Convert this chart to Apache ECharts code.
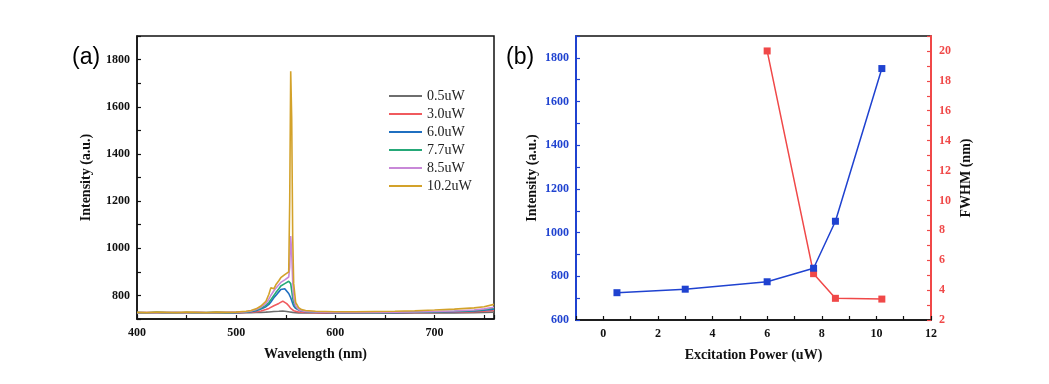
<!DOCTYPE html>
<html><head><meta charset="utf-8">
<script src="https://cdn.jsdelivr.net/npm/echarts@6/dist/echarts.min.js"></script>
<style>html,body{margin:0;padding:0;background:#fff}#c{width:1049px;height:384px}</style>
</head><body><div id="c"></div>
<script>
// ---- Panel (a): spectra ----
const wavelength = [400,410,420,430,440,450,460,470,480,490,500,510,515,520,525,530,533,535,538,540,543,545,547,549,551,553,554,555,556,557,558,560,563,566,570,580,590,600,620,640,660,680,700,720,740,750,760];
const s05  = [726,725,727,726,725,727,726,725,727,726,726,727,727,728,728,729,730,731,732,732,733,733,734,733,732,731,730,729,728,728,727,727,726,726,727,726,725,726,725,726,725,726,727,726,727,728,729];
const s30  = [726,727,726,725,727,726,727,726,725,727,727,728,729,731,734,740,745,750,756,760,766,770,776,772,765,756,750,745,741,737,735,732,730,729,728,727,726,727,726,727,726,728,728,729,731,733,736];
const s60  = [727,726,727,726,727,725,727,726,727,726,727,729,731,735,742,752,762,772,790,800,815,825,832,828,820,808,800,790,778,766,755,745,738,734,731,729,728,727,727,728,727,729,730,731,734,737,742];
const s77  = [727,726,728,727,726,727,726,727,728,727,728,730,733,738,746,758,770,782,800,812,828,840,847,850,855,860,862,850,820,790,770,750,740,735,732,730,729,728,728,727,728,729,731,733,736,740,747];
const s85  = [727,727,726,728,727,726,728,727,727,728,728,731,734,740,750,765,785,800,820,830,845,855,862,866,870,878,920,1052,980,860,790,755,740,735,732,730,729,728,729,728,729,730,732,734,738,743,750];
const s102 = [728,727,729,728,727,729,728,727,729,728,729,733,736,743,755,775,805,833,828,845,862,875,883,888,890,900,1200,1750,1550,1050,850,770,748,740,736,733,732,731,731,732,733,735,738,742,747,752,762];
const spectraNames = ['0.5uW','3.0uW','6.0uW','7.7uW','8.5uW','10.2uW'];
const spectraData = [s05,s30,s60,s77,s85,s102];
const spectraColors = ['#6e6e6e','#f05a5e','#1f6fc0','#25a878','#c888d8','#d3a22a'];
const yTicksA = [800,1000,1200,1400,1600,1800];
const xTicksA = [400,500,600,700];

// ---- Panel (b): power dependence ----
const power = [0.5,3.0,6.0,7.7,8.5,10.2];
const intensity = [725,741,775,837,1052,1751];
const powerF = [6.0,7.7,8.5,10.2];
const fwhm = [20.0,5.1,3.45,3.4];
const xTicksB = [0,2,4,6,8,10,12];
const yTicksB = [600,800,1000,1200,1400,1600,1800];
const yTicksF = [2,4,6,8,10,12,14,16,18,20];

const BLUE = '#1f42d0', RED = '#f04848';
const serif = 'Liberation Serif';
const lbl = (c)=>({fontFamily:serif,fontWeight:'bold',fontSize:12,color:c});
const nameStyle = {fontFamily:serif,fontWeight:'bold',fontSize:14,color:'#111'};
const pick = (arr)=> (v)=> arr.indexOf(Math.round(v*1000)/1000) >= 0 ? String(v) : '';

const chart = echarts.init(document.getElementById('c'), null, {renderer:'canvas'});
const series = [];
spectraData.forEach((d,i)=>{
  series.push({name:spectraNames[i],type:'line',xAxisIndex:0,yAxisIndex:0,showSymbol:false,symbol:'none',
    data:wavelength.map((w,j)=>[w,d[j]]),lineStyle:{width:1.6,color:spectraColors[i]},itemStyle:{color:spectraColors[i]},z:2+i});
});
series.push({name:'Intensity',type:'line',xAxisIndex:1,yAxisIndex:1,data:power.map((p,j)=>[p,intensity[j]]),
  symbol:'rect',symbolSize:7,lineStyle:{width:1.5,color:BLUE},itemStyle:{color:BLUE},z:5});
series.push({name:'FWHM',type:'line',xAxisIndex:1,yAxisIndex:2,data:powerF.map((p,j)=>[p,fwhm[j]]),
  symbol:'rect',symbolSize:7,lineStyle:{width:1.5,color:RED},itemStyle:{color:RED},z:4});

chart.setOption({
  animation:false,
  backgroundColor:'#fff',
  graphic:[
    {type:'text',left:72,top:46,style:{text:'(a)',font:'23px "Liberation Sans"',fill:'#000'}},
    {type:'text',left:506,top:46,style:{text:'(b)',font:'23px "Liberation Sans"',fill:'#000'}}
  ],
  legend:{data:spectraNames,orient:'vertical',left:384,top:84,itemWidth:33,itemHeight:2,itemGap:4,icon:'rect',
    textStyle:{fontFamily:serif,fontSize:14,color:'#222',lineHeight:14}},
  grid:[
    {left:137,right:555,top:36,bottom:65,show:true,borderColor:'#111',borderWidth:1.5},
    {left:576,right:118,top:36,bottom:64,show:true,borderColor:'#111',borderWidth:1.5}
  ],
  xAxis:[
    {type:'value',gridIndex:0,min:400,max:760,interval:50,
     axisLine:{onZero:false,lineStyle:{color:'#111',width:1.5}},splitLine:{show:false},
     axisTick:{inside:true,length:4,lineStyle:{color:'#111',width:1.2}},
     axisLabel:Object.assign(lbl('#111'),{formatter:pick(xTicksA),margin:8}),
     name:'Wavelength (nm)',nameLocation:'middle',nameGap:28,nameTextStyle:nameStyle},
    {type:'value',gridIndex:1,min:-1,max:12,interval:1,
     axisLine:{onZero:false,lineStyle:{color:'#111',width:1.5}},splitLine:{show:false},
     axisTick:{inside:true,length:4,lineStyle:{color:'#111',width:1.2}},
     axisLabel:Object.assign(lbl('#111'),{formatter:pick(xTicksB),margin:8}),
     name:'Excitation Power (uW)',nameLocation:'middle',nameGap:28,nameTextStyle:nameStyle}
  ],
  yAxis:[
    {type:'value',gridIndex:0,min:700,max:1900,interval:100,
     axisLine:{show:true,onZero:false,lineStyle:{color:'#111',width:1.5}},splitLine:{show:false},
     axisTick:{inside:true,length:4,lineStyle:{color:'#111',width:1.2}},
     axisLabel:Object.assign(lbl('#111'),{formatter:pick(yTicksA),margin:7}),
     name:'Intensity (a.u.)',nameLocation:'middle',nameGap:44,nameTextStyle:nameStyle},
    {type:'value',gridIndex:1,min:600,max:1900,interval:100,position:'left',
     axisLine:{show:true,onZero:false,lineStyle:{color:BLUE,width:2}},splitLine:{show:false},
     axisTick:{inside:true,length:4,lineStyle:{color:BLUE,width:1.2}},
     axisLabel:Object.assign(lbl(BLUE),{formatter:pick(yTicksB),margin:7}),
     name:'Intensity (a.u.)',nameLocation:'middle',nameGap:37,nameTextStyle:nameStyle},
    {type:'value',gridIndex:1,min:2,max:21,interval:1,position:'right',
     axisLine:{show:true,onZero:false,lineStyle:{color:RED,width:2}},splitLine:{show:false},
     axisTick:{inside:true,length:4,lineStyle:{color:RED,width:1.2}},
     axisLabel:Object.assign(lbl(RED),{formatter:pick(yTicksF),margin:8}),
     name:'FWHM (nm)',nameLocation:'middle',nameGap:28,nameRotate:90,nameTextStyle:nameStyle}
  ],
  series:series
});
</script></body></html>
